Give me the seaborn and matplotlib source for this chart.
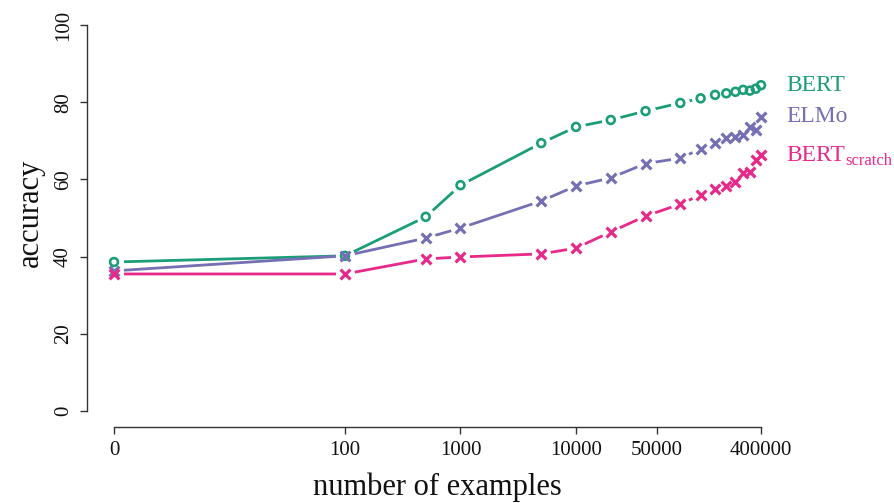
import numpy as np
import pandas as pd
import matplotlib
matplotlib.use("Agg")
import matplotlib.pyplot as plt
import seaborn as sns

# ---- data ----
n_examples = [0, 100, 500, 1000, 5000, 10000, 20000, 40000, 80000, 120000,
              160000, 200000, 240000, 280000, 320000, 360000, 400000]
bert = [38.6, 40.2, 50.3, 58.5, 69.4, 73.6, 75.4, 77.7, 79.8, 81.0,
        81.9, 82.3, 82.7, 83.2, 83.0, 83.5, 84.4]
elmo = [36.3, 40.2, 44.8, 47.4, 54.4, 58.3, 60.4, 64.1, 65.5, 67.9,
        69.4, 70.6, 71.0, 71.5, 73.5, 72.9, 76.2]
bert_scratch = [35.5, 35.5, 39.4, 39.9, 40.7, 42.2, 46.4, 50.5, 53.6, 56.0,
                57.5, 58.3, 59.3, 61.7, 61.9, 65.0, 66.3]
model_names = ["BERT", "ELMo", "BERT_scratch"]
label_main = ["BERT", "ELMo", "BERT"]
label_sub = ["", "", "scratch"]
x_tick_values = [0, 100, 1000, 10000, 50000, 400000]
x_tick_labels = ["0", "100", "1000", "10000", "50000", "400000"]
y_tick_values = [0, 20, 40, 60, 80, 100]

colors = {"BERT": "#1b9e77", "ELMo": "#7570b3", "BERT_scratch": "#e7298a"}
markers = {"BERT": "o", "ELMo": "x", "BERT_scratch": "x"}


def to_pos(v):
    v = np.asarray(v, dtype=float)
    return np.where(v > 0, np.log10(np.maximum(v, 1)), 0.0)


frames = []
for name, vals in zip(model_names, [bert, elmo, bert_scratch]):
    frames.append(pd.DataFrame({"n": n_examples, "pos": to_pos(n_examples),
                                "acc": vals, "model": name}))
df = pd.concat(frames, ignore_index=True)

sns.set_style("white")
plt.rcParams["font.family"] = ["Liberation Serif", "DejaVu Serif"]

fig = plt.figure(figsize=(8.94, 5.03), dpi=100)
ax = fig.add_axes([80 / 894, (503 - 440) / 503, 720 / 894, 425 / 503])

# lines
sns.lineplot(data=df, x="pos", y="acc", hue="model", hue_order=model_names,
             palette=colors, sort=False, estimator=None, linewidth=2.0,
             legend=False, ax=ax)
# white halos to create the gaps around points
sns.scatterplot(data=df, x="pos", y="acc", color="white", s=190,
                linewidth=0, legend=False, ax=ax, zorder=3)
# markers
for name in model_names:
    sub = df[df["model"] == name]
    if markers[name] == "o":
        ax.scatter(sub["pos"], sub["acc"], marker="o", s=32,
                   facecolors="none", edgecolors=colors[name],
                   linewidths=1.9, zorder=4)
    else:
        ax.scatter(sub["pos"], sub["acc"], marker="x", s=50,
                   color=colors[name], linewidths=2.3, zorder=4)

# series labels on the right
for name, lab, subtxt in zip(model_names, label_main, label_sub):
    sub = df[df["model"] == name]
    t = ax.annotate(lab, xy=(sub["pos"].iloc[-1], sub["acc"].iloc[-1]),
                    xytext=(18, 0), textcoords="offset points", va="center",
                    ha="left", color=colors[name], fontsize=17)
    if subtxt:
        ax.annotate(subtxt, xy=(1, 0.22), xycoords=t, xytext=(0.5, 0),
                    textcoords="offset points", va="center", ha="left",
                    color=colors[name], fontsize=12)

x_lo, x_hi = (80 - 114) / 115.5, (800 - 114) / 115.5
y_hi, y_lo = (411 - 15) / 3.86, (411 - 440) / 3.86
ax.set_xlim(x_lo, x_hi)
ax.set_ylim(y_lo, y_hi)

ax.set_xticks(to_pos(x_tick_values))
ax.set_xticklabels(x_tick_labels)
ax.set_yticks(y_tick_values)
ax.set_yticklabels([str(v) for v in y_tick_values])

for s in ["top", "right"]:
    ax.spines[s].set_visible(False)
ax.spines["left"].set_position(("data", (87 - 114) / 115.5))
ax.spines["left"].set_bounds(0, 100)
ax.spines["bottom"].set_position(("data", (411 - 427) / 3.86))
ax.spines["bottom"].set_bounds(0, float(to_pos([400000])[0]))
for s in ["left", "bottom"]:
    ax.spines[s].set_color("#333333")
    ax.spines[s].set_linewidth(1.0)

ax.tick_params(axis="both", which="major", direction="out", length=5,
               width=1.0, color="#333333", labelsize=15, labelcolor="#111111",
               left=True, bottom=True)
ax.tick_params(axis="y", pad=5, labelrotation=90)
ax.tick_params(axis="x", pad=5)
for lbl in ax.get_yticklabels():
    lbl.set_va("center")

ax.set_xlabel("number of examples", fontsize=22, color="#111111")
ax.set_ylabel("accuracy", fontsize=22, color="#111111", va="center")
ax.xaxis.set_label_coords((437 - 80) / 720, (440 - 487) / 425)
ax.xaxis.label.set_va("center")
ax.yaxis.set_label_coords((30 - 80) / 720, (440 - 213) / 425)
ax.grid(False)

fig.savefig("out.png", dpi=100)
